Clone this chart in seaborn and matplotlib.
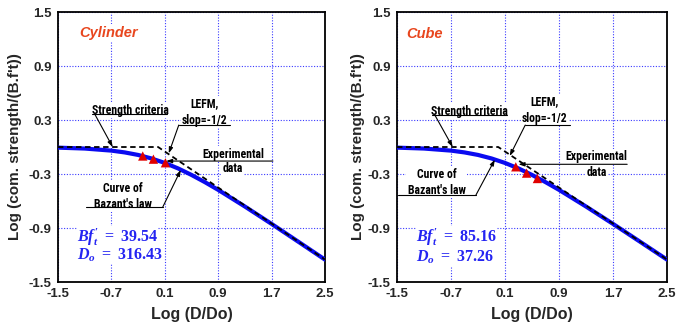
import numpy as np
import pandas as pd
import matplotlib
matplotlib.use("Agg")
import matplotlib.pyplot as plt
from matplotlib import font_manager
import seaborn as sns

# Size-effect curve (Bazant's law), normalised: log(sigma/(B f't)) vs log(D/Do)
log_d = [-1.5, -1.1, -0.7, -0.5, -0.3, -0.1, 0.1, 0.3, 0.5, 0.7, 0.9, 1.3, 1.7, 2.1, 2.5]
log_s = [-0.007, -0.017, -0.040, -0.060, -0.088, -0.127, -0.177, -0.238,
         -0.310, -0.390, -0.476, -0.661, -0.854, -1.052, -1.251]

# Strength criterion (horizontal) meeting the LEFM asymptote (slope -1/2)
crit_x = [-1.5, 0.0, 2.5]
crit_y = [0.0, 0.0, -1.25]

# Experimental points
cyl_x = [-0.23, -0.07, 0.11]
cyl_y = [-0.10, -0.135, -0.175]
cube_x = [0.26, 0.42, 0.58]
cube_y = [-0.22, -0.29, -0.35]

panels = ["Cylinder", "Cube"]
bft = ["39.54", "85.16"]
do = ["316.43", "37.26"]

xticks = [-1.5, -0.7, 0.1, 0.9, 1.7, 2.5]
yticks = [-1.5, -0.9, -0.3, 0.3, 0.9, 1.5]

sns.set_style("white")
plt.rcParams["font.family"] = ["Liberation Sans", "DejaVu Sans"]
plt.rcParams["mathtext.fontset"] = "custom"
plt.rcParams["mathtext.it"] = "Liberation Serif:italic:bold"
plt.rcParams["mathtext.rm"] = "Liberation Serif:bold"
plt.rcParams["mathtext.bf"] = "Liberation Serif:bold"

# narrow face for the callout labels, if one is installed
installed = {f.name for f in font_manager.fontManager.ttflist}
narrow = next((n for n in ["Liberation Sans Narrow", "Arial Narrow", "Roboto Condensed",
                           "DejaVu Sans Condensed"] if n in installed), None)
if narrow:
    note_font = dict(family=[narrow, "DejaVu Sans"], fontweight="bold", fontsize=8.5,
                     color="black")
else:
    note_font = dict(family=["Liberation Sans", "DejaVu Sans"], fontweight="bold",
                     fontsize=7.5, color="black")

curve_df = pd.DataFrame({"x": log_d, "y": log_s})
crit_df = pd.DataFrame({"x": crit_x, "y": crit_y})

fig = plt.figure(figsize=(6.86, 3.31), dpi=100)
ax_l = fig.add_axes([0.0845, 0.148, 0.3892, 0.8157])
ax_r = fig.add_axes([0.5787, 0.148, 0.3936, 0.8157])

box = dict(facecolor="white", edgecolor="none", pad=1.0)
eq_box = dict(facecolor="white", edgecolor="none", pad=0.2)
arrow = dict(arrowstyle="-|>,head_length=0.35,head_width=0.12", color="black",
             lw=0.8, shrinkA=0, shrinkB=0)

# callout layouts per panel: text centre, underline span, arrow tip
layouts = [
    dict(sc_text=(-0.42, 0.41), sc_line=(-0.99, 0.13, 0.367), sc_tip=(-0.68, 0.0),
         lefm_text=(0.70, 0.39), lefm_line=(0.31, 1.08, 0.244), lefm_tip=(0.16, -0.07),
         exp_text=(1.12, -0.08, -0.24), exp_line=(1.72, -0.156), exp_tip=(0.12, -0.156),
         bz_text=(-0.53, -0.55), bz_line=(-1.08, 0.07, -0.667), bz_tip=(0.34, -0.255),
         title=(-1.185, 1.27), eq=(-1.215, -1.005, -1.205)),
    dict(sc_text=(-0.42, 0.40), sc_line=(-0.98, 0.13, 0.356), sc_tip=(-0.675, 0.0),
         lefm_text=(0.69, 0.41), lefm_line=(0.40, 1.06, 0.244), lefm_tip=(0.17, -0.10),
         exp_text=(1.46, -0.11, -0.278), exp_line=(1.91, -0.192), exp_tip=(0.30, -0.192),
         bz_text=(-0.91, -0.39), bz_line=(-1.485, -0.33, -0.533), bz_tip=(-0.05, -0.14),
         title=(-1.367, 1.26), eq=(-1.22, -1.005, -1.22)),
]

for i, ax in enumerate([ax_l, ax_r]):
    px, py = (cyl_x, cyl_y) if i == 0 else (cube_x, cube_y)
    L = layouts[i]

    sns.lineplot(data=curve_df, x="x", y="y", ax=ax, color="#0A0AF0", lw=3.0,
                 zorder=3, sort=False)
    sns.lineplot(data=crit_df, x="x", y="y", ax=ax, color="black", lw=1.3,
                 linestyle=(0, (3, 2)), zorder=4, sort=False)
    sns.scatterplot(x=px, y=py, ax=ax, marker="^", color="#E00000", s=45,
                    edgecolor="none", zorder=5)

    ax.set_xlim(-1.5, 2.5)
    ax.set_ylim(-1.5, 1.5)
    ax.set_xticks(xticks)
    ax.set_yticks(yticks)
    ax.set_xticklabels([f"{v:.1f}" for v in xticks])
    ax.set_yticklabels([f"{v:.1f}" for v in yticks])
    ax.tick_params(direction="in", length=3, width=1, pad=4.5, labelsize=9.5)
    for lab in ax.get_xticklabels() + ax.get_yticklabels():
        lab.set_fontweight("bold")
    ax.grid(True, color="#3a3aff", linestyle=(0, (1, 1.5)), lw=0.8)
    ax.set_axisbelow(True)
    for sp in ax.spines.values():
        sp.set_visible(True)
        sp.set_color("black")
        sp.set_linewidth(1.3)

    ax.set_xlabel("Log (D/Do)", fontsize=11.5, fontweight="bold")
    ax.set_ylabel("Log (com. strength/(B.f't))", fontsize=11, fontweight="bold")
    ax.xaxis.label.set_va("center")
    ax.yaxis.label.set_va("center")
    ax.xaxis.set_label_coords(0.5, -0.122)
    ax.yaxis.set_label_coords(-0.161 if i == 0 else -0.144, 0.5)

    # panel name
    ax.text(*L["title"], panels[i], color="#E8461E", fontsize=10.5, fontweight="bold",
            fontstyle="italic", ha="left", va="center", bbox=box, zorder=6)

    # Strength criteria callout
    ax.text(*L["sc_text"], "Strength criteria", ha="center", va="center",
            bbox=box, zorder=6, **note_font)
    x0, x1, yl = L["sc_line"]
    ax.plot([x0, x1], [yl, yl], color="black", lw=0.8, zorder=7)
    ax.annotate("", xy=L["sc_tip"], xytext=(x0 + 0.04, yl), arrowprops=arrow, zorder=7)

    # LEFM callout
    ax.text(*L["lefm_text"], "LEFM,\nslop=-1/2", ha="center", va="center",
            linespacing=1.35, bbox=box, zorder=6, **note_font)
    x0, x1, yl = L["lefm_line"]
    ax.plot([x0, x1], [yl, yl], color="black", lw=0.8, zorder=7)
    ax.annotate("", xy=L["lefm_tip"], xytext=(x0, yl), arrowprops=arrow, zorder=7)

    # Experimental data callout
    tx, ty1, ty2 = L["exp_text"]
    ax.text(tx, ty1, "Experimental", ha="center", va="center", bbox=box, zorder=6,
            **note_font)
    ax.text(tx, ty2, "data", ha="center", va="center", bbox=box, zorder=6, **note_font)
    ax.annotate("", xy=L["exp_tip"], xytext=L["exp_line"], arrowprops=arrow, zorder=7)

    # Bazant's law callout
    ax.text(*L["bz_text"], "Curve of\nBazant's law", ha="center", va="center",
            linespacing=1.3, bbox=box, zorder=6, **note_font)
    x0, x1, yl = L["bz_line"]
    ax.plot([x0, x1], [yl, yl], color="black", lw=0.8, zorder=7)
    ax.annotate("", xy=L["bz_tip"], xytext=(x1, yl), arrowprops=arrow, zorder=7)

    # fitted parameters
    ex, ey1, ey2 = L["eq"]
    ax.text(ex, ey1, rf"$Bf^{{\prime}}_{{t}}\ =\ \mathrm{{{bft[i]}}}$", color="#2424F2",
            fontsize=11.5, ha="left", va="center", bbox=eq_box, zorder=6)
    ax.text(ex, ey2, rf"$D_{{o}}\ =\ \mathrm{{{do[i]}}}$", color="#2424F2",
            fontsize=11.5, ha="left", va="center", bbox=eq_box, zorder=6)

fig.savefig("out.png", dpi=100)
